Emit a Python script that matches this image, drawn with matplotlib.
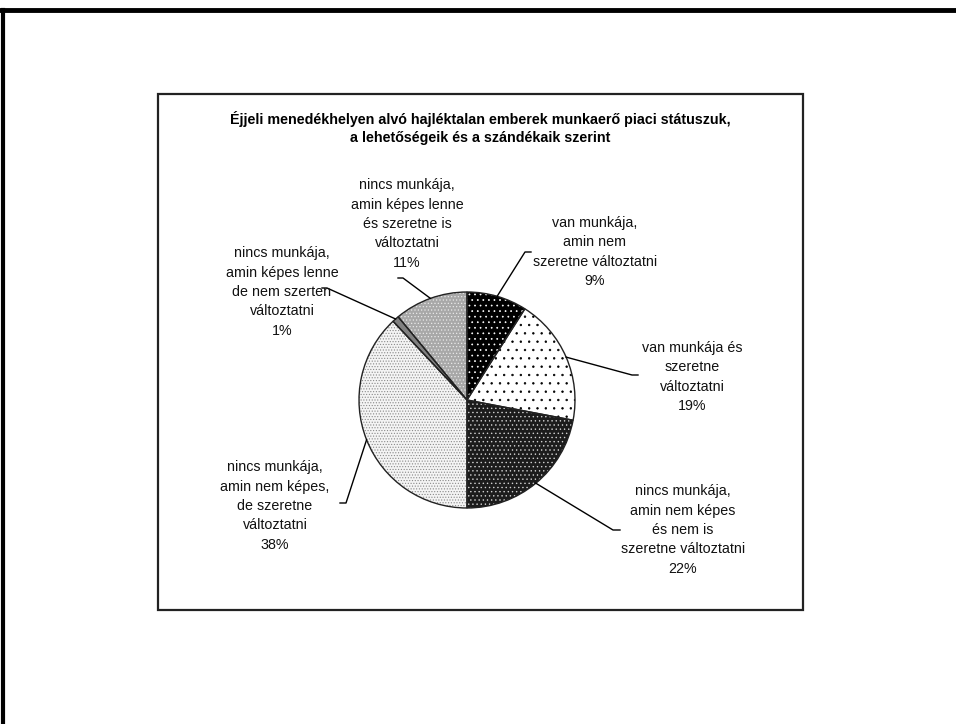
import matplotlib
matplotlib.use("Agg")
import matplotlib.pyplot as plt
import numpy as np
from matplotlib.lines import Line2D
from matplotlib.patches import Rectangle

plt.rcParams['font.family'] = ['Liberation Sans', 'DejaVu Sans']
plt.rcParams['hatch.linewidth'] = 0.5

title = "Éjjeli menedékhelyen alvó hajléktalan emberek munkaerő piaci státuszuk,\na lehetőségeik és a szándékaik szerint"
categories = [
    "van munkája,\namin nem\nszeretne változtatni",
    "van munkája és\nszeretne\nváltoztatni",
    "nincs munkája,\namin nem képes\nés nem is\nszeretne változtatni",
    "nincs munkája,\namin nem képes,\nde szeretne\nváltoztatni",
    "nincs munkája,\namin képes lenne\nde nem szerten\nváltoztatni",
    "nincs munkája,\namin képes lenne\nés szeretne is\nváltoztatni",
]
values = [9, 19, 22, 38, 1, 11]

W, H = 956, 724
fig = plt.figure(figsize=(W / 100, H / 100), dpi=100)
ax = fig.add_axes([0, 0, 1, 1])

def Y(y):
    return H - y

cx, cy, R = 467, Y(400), 108

face = ['#000000', '#ffffff', '#1c1c1c', '#f4f4f4', '#808080', '#a8a8a8']
hatchc = ['#ffffff', '#000000', '#d0d0d0', '#8a8a8a', '#808080', '#e8e8e8']
hatches = ['...', '..', '....', '......', None, '.....']

wedges, _ = ax.pie(values, startangle=90, counterclock=False, center=(cx, cy),
                   radius=R, colors=face, wedgeprops=dict(linewidth=0))
for w, hc, hp in zip(wedges, hatchc, hatches):
    if hp:
        w.set_hatch(hp)
        w.set_edgecolor(hc)
# outlines
ax.pie(values, startangle=90, counterclock=False, center=(cx, cy),
       radius=R, colors=['none'] * len(values),
       wedgeprops=dict(linewidth=1.0, edgecolor='#222222', facecolor='none'))

# label layout
label_pos = [(595, 252), (692, 377), (683, 530), (275, 506), (282, 292), (407, 224)]
elbows = [((525, 252), (531, 252)), ((632, 375), (638, 375)), ((613, 530), (620, 530)),
          ((346, 503), (340, 503)), ((327, 288), (322, 288)), ((403, 278), (398, 278))]

for w, cat, v, lp, el in zip(wedges, categories, values, label_pos, elbows):
    ang = np.deg2rad((w.theta1 + w.theta2) / 2)
    sx, sy = cx + R * np.cos(ang), cy + R * np.sin(ang)
    (ex, ey), (tx, ty) = el
    ax.add_line(Line2D([sx, ex, tx], [sy, Y(ey), Y(ty)], color='black', lw=1.0))
    ax.text(lp[0], Y(lp[1]), f"{cat}\n{v}%", ha='center', va='center',
            multialignment='center', fontsize=10.3, linespacing=1.48, color='#111111')

ax.text(480, Y(128), title, ha='center', va='center', multialignment='center',
        fontsize=10.3, fontweight='bold', linespacing=1.35)

# inner chart box
ax.add_patch(Rectangle((158, Y(610)), 803 - 158, 610 - 94, fill=False,
                       edgecolor='#222222', lw=1.6))
# outer frame
ax.add_line(Line2D([0, W], [Y(10), Y(10)], color='black', lw=3.5))
ax.add_line(Line2D([3.5, 3.5], [0, Y(10)], color='black', lw=3.0))

ax.set_xlim(0, W)
ax.set_ylim(0, H)
ax.set_aspect('auto')
ax.axis('off')
fig.savefig('out.png', dpi=100, facecolor='white')
